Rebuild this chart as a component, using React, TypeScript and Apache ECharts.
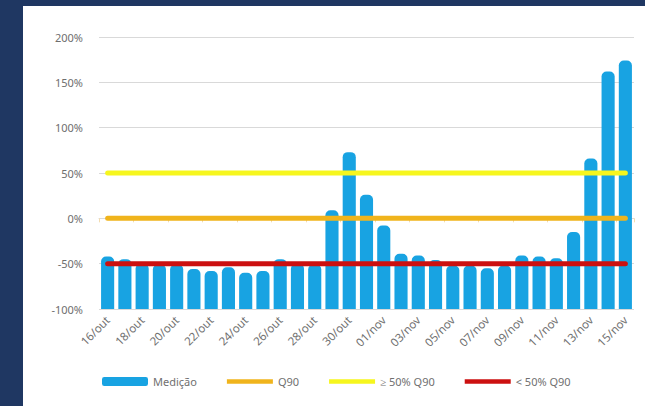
import React, { useEffect, useRef } from "react";
import * as echarts from "echarts";

const categories = [
  "16/out", "17/out", "18/out", "19/out", "20/out", "21/out", "22/out", "23/out",
  "24/out", "25/out", "26/out", "27/out", "28/out", "29/out", "30/out", "31/out",
  "01/nov", "02/nov", "03/nov", "04/nov", "05/nov", "06/nov", "07/nov", "08/nov",
  "09/nov", "10/nov", "11/nov", "12/nov", "13/nov", "14/nov", "15/nov",
];

const medicao = [
  -42, -45, -50, -51, -51, -56, -58, -54, -60, -58, -45, -50, -51, 9, 73, 26,
  -8, -39, -41, -46, -52, -52, -55, -52, -41, -42, -44, -15, 66, 162, 174,
];

const q90Level = 0;
const high50Level = 50;
const low50Level = -50;

const yTicks = [-100, -50, 0, 50, 100, 150, 200];

const FONT = "Noto Sans";
const LINE_ICON = "path://M0,0h46v4.5h-46z";

export default function App() {
  const ref = useRef<HTMLDivElement>(null);
  useEffect(() => {
    if (!ref.current) return;
    const chart = echarts.init(ref.current, undefined, { renderer: "svg" });
    const first = categories[0];
    const last = categories[categories.length - 1];
    chart.setOption({
      animation: false,
      backgroundColor: "#ffffff",
      textStyle: { fontFamily: FONT },
      grid: { left: 76, right: 11, top: 31, bottom: 97 },
      xAxis: {
        type: "category",
        data: categories,
        boundaryGap: true,
        axisLine: { show: true, lineStyle: { color: "#d9d9d9" } },
        axisTick: { show: true, length: 4, lineStyle: { color: "#f3dcb0" } },
        axisLabel: {
          interval: 1,
          rotate: 45,
          margin: 9,
          color: "#707070",
          fontSize: 11.5,
          fontFamily: FONT,
        },
      },
      yAxis: {
        type: "value",
        min: yTicks[0],
        max: yTicks[yTicks.length - 1],
        interval: 50,
        startValue: -100,
        axisLine: { show: false },
        axisTick: { show: false },
        splitLine: { lineStyle: { color: "#d9d9d9" } },
        axisLabel: {
          margin: 16,
          color: "#6e6e6e",
          fontSize: 11,
          fontFamily: FONT,
          formatter: (v: number) => `${v}%`,
        },
      },
      legend: {
        bottom: 14,
        left: 74,
        itemWidth: 46,
        itemHeight: 9,
        itemGap: 30,
        textStyle: { color: "#707070", fontSize: 11, fontFamily: FONT },
        data: [
          { name: "Medição", icon: "roundRect" },
          { name: "Q90", icon: LINE_ICON },
          { name: "≥ 50% Q90", icon: LINE_ICON },
          { name: "< 50% Q90", icon: LINE_ICON },
        ],
      },
      series: [
        {
          name: "Medição",
          type: "bar",
          data: medicao,
          barCategoryGap: "24%",
          itemStyle: { color: "#18a3e2", borderRadius: [5, 5, 0, 0] },
        },
        {
          name: "Q90",
          type: "line",
          data: [[first, q90Level], [last, q90Level]],
          symbol: "none",
          lineStyle: { color: "#f0b41c", width: 5, cap: "round" },
          itemStyle: { color: "#f0b41c" },
        },
        {
          name: "≥ 50% Q90",
          type: "line",
          data: [[first, high50Level], [last, high50Level]],
          symbol: "none",
          lineStyle: { color: "#f6f61e", width: 5, cap: "round" },
          itemStyle: { color: "#f6f61e" },
        },
        {
          name: "< 50% Q90",
          type: "line",
          data: [[first, low50Level], [last, low50Level]],
          symbol: "none",
          lineStyle: { color: "#cc1010", width: 5, cap: "round" },
          itemStyle: { color: "#cc1010" },
        },
      ],
    });
    return () => chart.dispose();
  }, []);

  return (
    <div
      style={{
        position: "fixed",
        left: 0,
        top: 0,
        width: 645,
        height: 406,
        background: "#1f3762",
      }}
    >
      <div
        ref={ref}
        style={{ position: "absolute", left: 23, top: 6, width: 622, height: 400 }}
      />
    </div>
  );
}
